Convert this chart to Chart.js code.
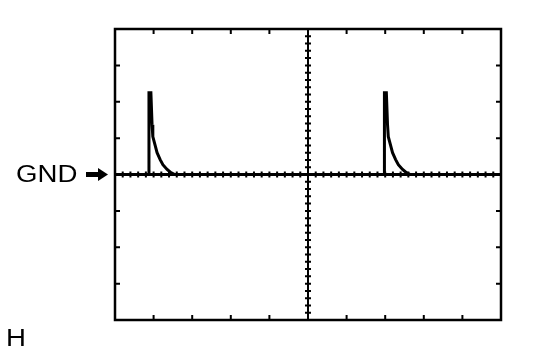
<!DOCTYPE html>
<html>
<head>
<meta charset="utf-8">
<script src="https://cdn.jsdelivr.net/npm/chart.js@4"></script>
<style>
  html, body { margin: 0; padding: 0; background: #fff; }
  #wrap { width: 558px; height: 357px; }
</style>
</head>
<body>
<div id="wrap"><canvas id="scope" width="558" height="357"></canvas></div>
<script>
// screen divisions (10 across, 8 high, GND in the middle)
const xDivs = [0, 1, 2, 3, 4, 5, 6, 7, 8, 9, 10];
const yDivs = [-4, -3, -2, -1, 0, 1, 2, 3, 4];
const minorPerDiv = 5;

// trace, in divisions
const traceX = [0, 0.87, 0.88, 0.93, 0.96, 0.98, 1.04, 1.09, 1.17, 1.24, 1.35, 1.45, 1.55,
                6.97, 6.98, 7.03, 7.06, 7.08, 7.14, 7.19, 7.27, 7.34, 7.45, 7.55, 7.65, 10];
const traceY = [0, 0, 2.25, 2.25, 1.37, 1.04, 0.80, 0.60, 0.41, 0.27, 0.14, 0.05, 0,
                0, 2.25, 2.25, 1.37, 1.04, 0.80, 0.60, 0.41, 0.27, 0.14, 0.05, 0, 0];

const groundLabel = 'GND';
const cornerLabel = 'H';

// labels in the picture are a bit wider than plain Arial
function wideText(ctx, txt, px, py, stretch) {
  ctx.save();
  ctx.translate(px, py);
  ctx.scale(stretch, 1);
  ctx.fillText(txt, 0, 0);
  ctx.restore();
}

const scopeFrame = {
  id: 'scopeFrame',
  beforeDatasetsDraw(chart) {
    const { ctx, chartArea: a, scales: { x, y } } = chart;
    const cx = x.getPixelForValue(5);
    const cy = y.getPixelForValue(0);
    ctx.save();
    ctx.strokeStyle = '#000';
    ctx.lineCap = 'butt';

    // centre cross
    ctx.lineWidth = 3;
    ctx.beginPath();
    ctx.moveTo(a.left, cy); ctx.lineTo(a.right, cy);
    ctx.stroke();
    ctx.lineWidth = 2;
    ctx.beginPath();
    ctx.moveTo(cx, a.top); ctx.lineTo(cx, a.bottom);
    ctx.stroke();

    // minor ticks on the cross
    ctx.lineWidth = 2;
    ctx.beginPath();
    for (let i = 1; i < 10 * minorPerDiv; i++) {
      const px = x.getPixelForValue(i / minorPerDiv);
      ctx.moveTo(px, cy - 3); ctx.lineTo(px, cy + 3);
    }
    for (let i = 1; i < 8 * minorPerDiv; i++) {
      const py = y.getPixelForValue(-4 + i / minorPerDiv);
      ctx.moveTo(cx - 3, py); ctx.lineTo(cx + 3, py);
    }
    ctx.stroke();

    // border
    ctx.lineWidth = 2.5;
    ctx.strokeRect(a.left, a.top, a.right - a.left, a.bottom - a.top);

    // major ticks, pointing inward
    ctx.lineWidth = 2;
    ctx.beginPath();
    xDivs.slice(1, -1).forEach(v => {
      const px = x.getPixelForValue(v);
      ctx.moveTo(px, a.top); ctx.lineTo(px, a.top + 5);
      ctx.moveTo(px, a.bottom); ctx.lineTo(px, a.bottom - 5);
    });
    yDivs.slice(1, -1).forEach(v => {
      const py = y.getPixelForValue(v);
      ctx.moveTo(a.left, py); ctx.lineTo(a.left + 5, py);
      ctx.moveTo(a.right, py); ctx.lineTo(a.right - 5, py);
    });
    ctx.stroke();
    ctx.restore();
  },
  afterDraw(chart) {
    const { ctx, scales: { y } } = chart;
    const cy = y.getPixelForValue(0);
    ctx.save();
    ctx.fillStyle = '#000';
    ctx.font = '23px "Liberation Sans", Arial, sans-serif';
    ctx.textBaseline = 'middle';
    ctx.textAlign = 'left';
    wideText(ctx, groundLabel, 16, cy + 1, 1.2);

    // arrow into the GND line
    ctx.fillRect(86, cy - 2.5, 14, 5);
    ctx.beginPath();
    ctx.moveTo(98, cy - 6.5);
    ctx.lineTo(108, cy);
    ctx.lineTo(98, cy + 6.5);
    ctx.closePath();
    ctx.fill();

    wideText(ctx, cornerLabel, 6, 340, 1.2);
    ctx.restore();
  }
};

new Chart(document.getElementById('scope'), {
  type: 'line',
  data: {
    datasets: [{
      data: traceX.map((v, i) => ({ x: v, y: traceY[i] })),
      borderColor: '#000',
      borderWidth: 3,
      pointRadius: 0,
      tension: 0,
      fill: false
    }]
  },
  options: {
    responsive: false,
    animation: false,
    layout: { padding: { left: 115, right: 57, top: 29, bottom: 37 } },
    plugins: { legend: { display: false }, tooltip: { enabled: false } },
    scales: {
      x: { type: 'linear', min: 0, max: 10, display: false },
      y: { type: 'linear', min: -4, max: 4, display: false }
    }
  },
  plugins: [scopeFrame]
});
</script>
</body>
</html>
